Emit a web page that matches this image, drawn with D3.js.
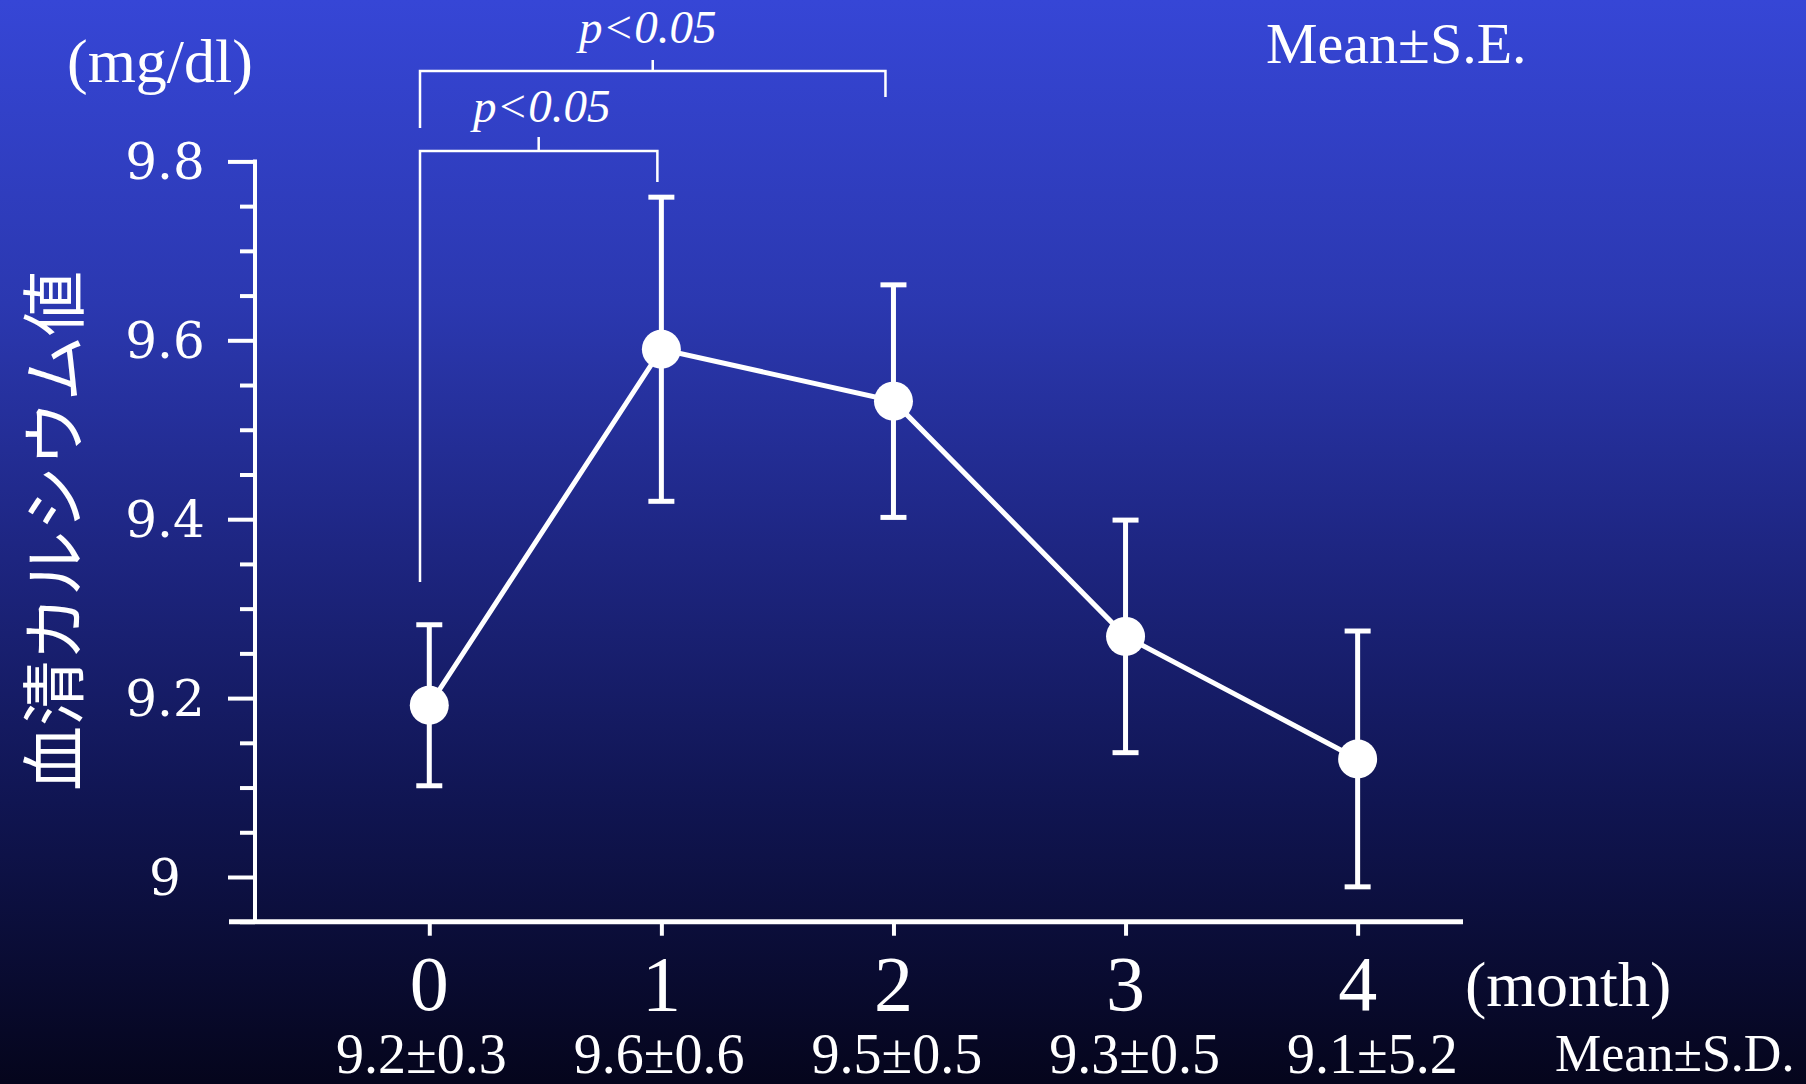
<!DOCTYPE html>
<html>
<head>
<meta charset="utf-8">
<script src="https://cdn.jsdelivr.net/npm/d3@7"></script>
<style>
  html, body { margin: 0; padding: 0; background: #05051e; }
  svg { display: block; }
</style>
</head>
<body>
<svg id="chart" width="1806" height="1084"></svg>
<script>
// ---- data ----
const months = [0, 1, 2, 3, 4];
const meanValues = [9.192, 9.590, 9.532, 9.269, 9.132];
const seValues = [0.09, 0.17, 0.13, 0.13, 0.143];
const sdLabels = ["9.2±0.3", "9.6±0.6", "9.5±0.5", "9.3±0.5", "9.1±5.2"];
const yMajorTicks = [9, 9.2, 9.4, 9.6, 9.8];
const yMinorTicks = [8.95, 9.05, 9.1, 9.15, 9.25, 9.3, 9.35, 9.45, 9.5, 9.55, 9.65, 9.7, 9.75];
const yTickLabels = ["9", "9.2", "9.4", "9.6", "9.8"];
const significance = [
  { from: 0, to: 1, label: "p<0.05", level: 0 },
  { from: 0, to: 2, label: "p<0.05", level: 1 }
];

const svg = d3.select("#chart");
const W = 1806, H = 1084;

// background gradient
const defs = svg.append("defs");
const grad = defs.append("linearGradient").attr("id", "bg")
  .attr("x1", 0).attr("y1", 0).attr("x2", 0).attr("y2", 1);
[["0%", "#3646d6"], ["28%", "#2b38b0"], ["50%", "#1e2683"], ["74%", "#101552"], ["100%", "#05051c"]]
  .forEach(([o, c]) => grad.append("stop").attr("offset", o).attr("stop-color", c));
svg.append("rect").attr("width", W).attr("height", H).attr("fill", "url(#bg)");

// scales
const x = d3.scaleLinear().domain([-0.863, 4.454]).range([229, 1463]);
const y = d3.scaleLinear().domain([9.0, 9.8]).range([877, 161.4]);
const axisY = y(8.95);
const axisX = 255;

const white = "#ffffff";
const serif = "'Liberation Serif', 'DejaVu Serif', serif";

// y axis line
svg.append("line").attr("x1", axisX).attr("x2", axisX)
  .attr("y1", y(9.8) - 2).attr("y2", axisY + 2)
  .attr("stroke", white).attr("stroke-width", 4);

// y ticks via d3 axis
const yAxisMajor = d3.axisLeft(y).tickValues(yMajorTicks).tickSize(27).tickFormat("");
const gYM = svg.append("g").attr("transform", `translate(${axisX},0)`).call(yAxisMajor);
gYM.select(".domain").remove();
gYM.selectAll(".tick line").attr("stroke", white).attr("stroke-width", 4);

const yAxisMinor = d3.axisLeft(y).tickValues(yMinorTicks).tickSize(15).tickFormat("");
const gYm = svg.append("g").attr("transform", `translate(${axisX},0)`).call(yAxisMinor);
gYm.select(".domain").remove();
gYm.selectAll(".tick line").attr("stroke", white).attr("stroke-width", 4);

// y tick labels
svg.append("g").selectAll("text").data(yMajorTicks).join("text")
  .attr("x", 165).attr("y", d => y(d))
  .attr("dy", "0.36em")
  .attr("text-anchor", "middle")
  .attr("fill", white)
  .attr("font-family", "'DejaVu Serif', serif")
  .attr("font-size", 50)
  .text((d, i) => yTickLabels[i]);

// x axis line
svg.append("line").attr("x1", 229).attr("x2", 1463)
  .attr("y1", axisY).attr("y2", axisY)
  .attr("stroke", white).attr("stroke-width", 5);

// x ticks
const xAxis = d3.axisBottom(x).tickValues(months).tickSize(14).tickFormat("");
const gX = svg.append("g").attr("transform", `translate(0,${axisY})`).call(xAxis);
gX.select(".domain").remove();
gX.selectAll(".tick line").attr("stroke", white).attr("stroke-width", 4);

// x tick labels
svg.append("g").selectAll("text").data(months).join("text")
  .attr("x", d => x(d)).attr("y", 1010)
  .attr("text-anchor", "middle")
  .attr("fill", white)
  .attr("font-family", serif)
  .attr("font-size", 78)
  .text(d => String(d));

// (month)
svg.append("text").attr("x", 1465).attr("y", 1006)
  .attr("fill", white).attr("font-family", serif).attr("font-size", 64)
  .text("(month)");

// SD labels
svg.append("g").selectAll("text").data(months).join("text")
  .attr("x", (d, i) => x(d) - 8 + i * 5.7).attr("y", 1073)
  .attr("text-anchor", "middle")
  .attr("fill", white)
  .attr("font-family", serif)
  .attr("font-size", 56)
  .text((d, i) => sdLabels[i]);

svg.append("text").attr("x", 1555).attr("y", 1071)
  .attr("fill", white).attr("font-family", serif).attr("font-size", 52)
  .text("Mean±S.D.");

// Mean±S.E.
svg.append("text").attr("x", 1266).attr("y", 63)
  .attr("fill", white).attr("font-family", serif).attr("font-size", 58)
  .text("Mean±S.E.");

// (mg/dl)
svg.append("text").attr("x", 67).attr("y", 82)
  .attr("fill", white).attr("font-family", serif).attr("font-size", 62)
  .text("(mg/dl)");

// y title
svg.append("text")
  .attr("transform", `translate(55,531) rotate(-90)`)
  .attr("text-anchor", "middle")
  .attr("dy", "0.36em")
  .attr("fill", white)
  .attr("font-family", "'Noto Sans CJK JP', sans-serif")
  .attr("font-weight", 400)
  .attr("font-size", 65)
  .text("血清カルシウム値");

// significance brackets
const bracketTop = [151, 71];
const rightBottom = [182, 97];
const leftBottom = [582, 128];
const tickTop = [137, 60];
const labelBase = [122, 43];
const bx0 = 420;
significance.forEach(s => {
  const lv = s.level;
  const xr = x(s.to) - 4 - 4 * lv;
  const g = svg.append("g").attr("fill", "none").attr("stroke", white).attr("stroke-width", 2.5);
  g.append("path").attr("d",
    `M${bx0},${leftBottom[lv]} V${bracketTop[lv]} H${xr} V${rightBottom[lv]}`);
  const cx = (bx0 + xr) / 2;
  g.append("line").attr("x1", cx).attr("x2", cx).attr("y1", tickTop[lv]).attr("y2", bracketTop[lv]);
  svg.append("text").attr("x", cx + (lv === 0 ? 3 : -5)).attr("y", labelBase[lv])
    .attr("text-anchor", "middle")
    .attr("fill", white).attr("font-family", serif)
    .attr("font-style", "italic").attr("font-size", 47)
    .text(s.label);
});

// error bars
const eg = svg.append("g").attr("stroke", white).attr("stroke-width", 5);
months.forEach((m, i) => {
  const cx = x(m);
  const top = y(meanValues[i] + seValues[i]);
  const bot = y(meanValues[i] - seValues[i]);
  eg.append("line").attr("x1", cx).attr("x2", cx).attr("y1", top).attr("y2", bot);
  eg.append("line").attr("x1", cx - 13).attr("x2", cx + 13).attr("y1", top).attr("y2", top);
  eg.append("line").attr("x1", cx - 13).attr("x2", cx + 13).attr("y1", bot).attr("y2", bot);
});

// line
const line = d3.line().x((d, i) => x(months[i])).y(d => y(d));
svg.append("path").datum(meanValues)
  .attr("d", line)
  .attr("fill", "none").attr("stroke", white).attr("stroke-width", 5);

// points
svg.append("g").selectAll("circle").data(meanValues).join("circle")
  .attr("cx", (d, i) => x(months[i])).attr("cy", d => y(d))
  .attr("r", 19.5).attr("fill", white);
</script>
</body>
</html>
